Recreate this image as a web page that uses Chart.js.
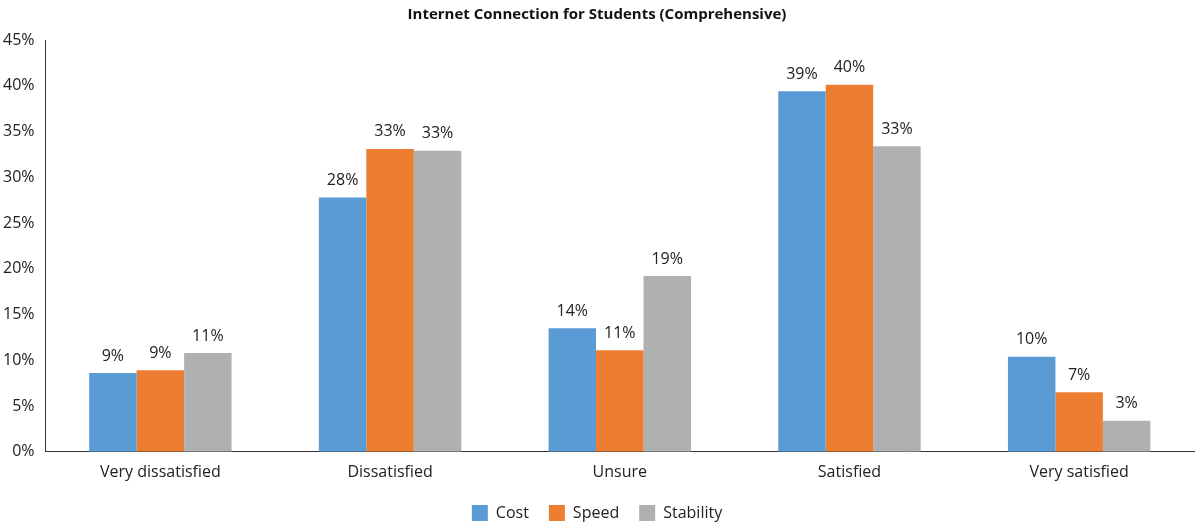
<!DOCTYPE html>
<html>
<head>
<meta charset="utf-8">
<script src="https://cdn.jsdelivr.net/npm/chart.js@4"></script>
<style>
  body { margin: 0; background: #fff; }
  #wrap { width: 1200px; height: 531px; }
</style>
</head>
<body>
<div id="wrap"><canvas id="myChart"></canvas></div>
<script>
const categories = ['Very dissatisfied', 'Dissatisfied', 'Unsure', 'Satisfied', 'Very satisfied'];
const cost = [8.6, 27.8, 13.5, 39.4, 10.4];
const speed = [8.9, 33.1, 11.1, 40.1, 6.5];
const stability = [10.8, 32.9, 19.2, 33.4, 3.4];

// value labels above bars
const barLabels = {
  id: 'barLabels',
  afterDatasetsDraw(chart) {
    const ctx = chart.ctx;
    ctx.save();
    ctx.font = '16px "Open Sans", sans-serif';
    ctx.fillStyle = '#222';
    ctx.textAlign = 'center';
    ctx.textBaseline = 'bottom';
    chart.data.datasets.forEach((ds, i) => {
      chart.getDatasetMeta(i).data.forEach((bar, j) => {
        ctx.fillText(Math.round(ds.data[j]) + '%', bar.x, bar.y - 9);
      });
    });
    ctx.restore();
  }
};

const data = {
  labels: categories,
  datasets: [
    { label: 'Cost', data: cost, backgroundColor: 'rgb(91, 155, 213)' },
    { label: 'Speed', data: speed, backgroundColor: 'rgb(237, 125, 49)' },
    { label: 'Stability', data: stability, backgroundColor: 'rgb(175, 176, 178)' }
  ]
};

const config = {
  type: 'bar',
  data: data,
  options: {
    responsive: true,
    maintainAspectRatio: false,
    animation: false,
    layout: { padding: { left: 0, right: 6, top: 4, bottom: 0 } },
    datasets: { bar: { categoryPercentage: 0.62, barPercentage: 1.0 } },
    plugins: {
      title: {
        display: true,
        text: 'Internet Connection for Students (Comprehensive)',
        color: '#111',
        font: { family: '"Open Sans", sans-serif', size: 15, weight: 'bold' },
        padding: { top: 2, bottom: 16 }
      },
      legend: {
        position: 'bottom',
        labels: {
          color: '#222',
          font: { family: '"Open Sans", sans-serif', size: 16 },
          boxWidth: 16, boxHeight: 16, padding: 20
        }
      },
      tooltip: { enabled: false }
    },
    scales: {
      x: {
        grid: { display: false, drawTicks: true },
        border: { color: '#333' },
        ticks: { color: '#222', font: { family: '"Open Sans", sans-serif', size: 16 } }
      },
      y: {
        min: 0, max: 45,
        grid: { display: false },
        border: { color: '#333' },
        ticks: {
          stepSize: 5,
          color: '#222',
          font: { family: '"Open Sans", sans-serif', size: 16 },
          callback: v => v + '%'
        }
      }
    }
  },
  plugins: [barLabels]
};

myChart = new Chart(document.getElementById('myChart'), config);
</script>
</body>
</html>
